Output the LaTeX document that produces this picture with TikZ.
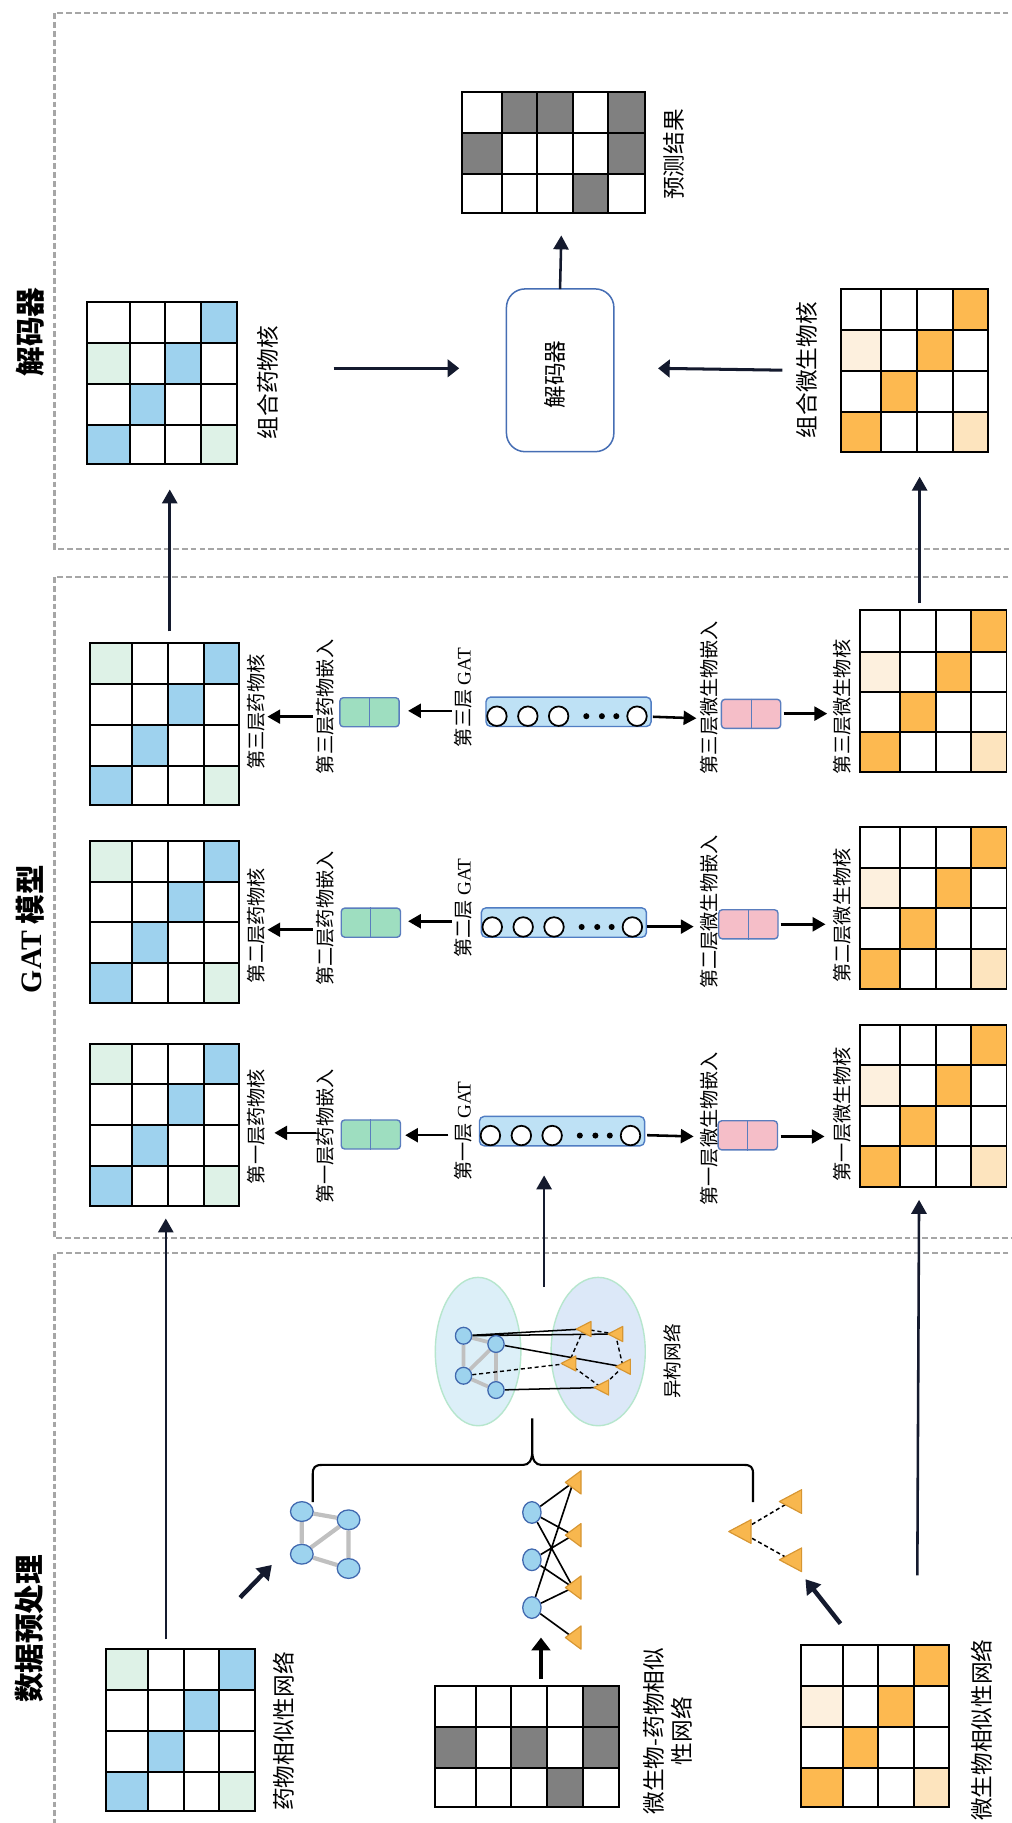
\documentclass[tikz,border=0pt]{standalone}
\usepackage{fontspec}
\setmainfont{Liberation Serif}
\newfontfamily\cjk{Noto Sans CJK SC}
\usetikzlibrary{arrows.meta,shapes.geometric,fit,calc}
\pgfdeclarelayer{bg}
\pgfdeclarelayer{edges}
\pgfsetlayers{bg,edges,main}

\definecolor{sky}{RGB}{158,210,238}
\definecolor{pgreen}{RGB}{222,242,231}
\definecolor{orn}{RGB}{253,185,80}
\definecolor{cream}{RGB}{253,240,222}
\definecolor{peach}{RGB}{253,228,190}
\definecolor{mgray}{RGB}{128,128,128}
\definecolor{mint}{RGB}{158,222,192}
\definecolor{rose}{RGB}{245,190,200}
\definecolor{embline}{RGB}{90,125,190}
\definecolor{barfill}{RGB}{190,225,245}
\definecolor{barline}{RGB}{80,125,195}
\definecolor{decline}{RGB}{70,110,180}
\definecolor{ellA}{RGB}{220,239,248}
\definecolor{ellB}{RGB}{220,232,248}
\definecolor{ellline}{RGB}{182,230,205}
\definecolor{nodefill}{RGB}{157,211,238}
\definecolor{nodeline}{RGB}{65,105,175}
\definecolor{trifill}{RGB}{248,183,78}
\definecolor{triline}{RGB}{215,150,50}
\definecolor{edgegray}{RGB}{192,192,192}
\definecolor{navy}{RGB}{20,26,46}
\definecolor{panelgray}{RGB}{166,166,166}

\tikzset{
  gridline/.style={line width=1.7pt, line cap=rect, draw=black},
  panel/.style={draw=panelgray, line width=2pt, dash pattern=on 5pt off 2.6pt},
  lbl/.style={rotate=90, inner sep=0pt, font=\cjk\fontsize{19.5}{24.3}\selectfont},
  slbl/.style={rotate=90, inner sep=0pt, font=\cjk\fontsize{16.5}{20}\selectfont},
  ttl/.style={rotate=90, inner sep=0pt, font=\cjk\bfseries\fontsize{25.5}{30}\selectfont},
  navyarr/.style={draw=navy, line width=2.2pt, -{Triangle[length=12pt,width=13pt]}},
  decarr/.style={draw=navy, line width=2.6pt, -{Triangle[length=10pt,width=15pt]}},
  blkarr/.style={draw=black, line width=2.2pt, -{Triangle[length=11pt,width=12pt]}},
  fatarr/.style={draw=navy, line width=3.8pt, -{Triangle[length=12pt,width=15pt]}},
  uparr/.style={draw=black, line width=3pt, -{Triangle[length=11pt,width=16pt]}},
  embbox/.style={draw=embline, line width=1.2pt, rounded corners=3pt, minimum width=51pt, minimum height=25pt, inner sep=0pt},
  barbox/.style={draw=barline, fill=barfill, line width=1.2pt, rounded corners=4pt, minimum width=142pt, minimum height=25.3pt, inner sep=0pt},
  unitcirc/.style={draw=black, fill=white, line width=1.5pt},
  blob/.style={ellipse, draw=nodeline, fill=nodefill, line width=1.1pt, inner sep=0pt},
  trishape/.style={draw=triline, fill=trifill, line width=1pt, line join=round},
  grayedge/.style={draw=edgegray, line width=3.2pt},
  solidedge/.style={draw=black, line width=1.3pt},
  dashedge/.style={draw=black, line width=1.2pt, dash pattern=on 3.5pt off 2.5pt},
  halo/.style={ellipse, draw=ellline, line width=1.2pt, inner sep=0pt},
}

% matrix: #1 column edges, #2 row edges, #3 coloured cells row/col/colour, #4 name
\newcommand\kmat[4]{%
  \edef\kcells{#3}%
  \foreach \kr/\kc/\kcol in \kcells {%
    \pgfmathtruncatemacro\kcn{\kc+1}%
    \pgfmathtruncatemacro\krn{\kr+1}%
    \pgfmathsetmacro\kxa{{#1}[\kc]}%
    \pgfmathsetmacro\kxb{{#1}[\kcn]}%
    \pgfmathsetmacro\kya{{#2}[\kr]}%
    \pgfmathsetmacro\kyb{{#2}[\krn]}%
    \fill[\kcol] (\kxa,\kya) rectangle (\kxb,\kyb);
  }%
  \pgfmathsetmacro\kxl{{#1}[0]}%
  \pgfmathsetmacro\kyt{{#2}[0]}%
  \foreach \kv in {#1} {\xdef\kxR{\kv}}%
  \foreach \kv in {#2} {\xdef\kyB{\kv}}%
  \foreach \kv in {#1} {\draw[gridline] (\kv,\kyt) -- (\kv,\kyB);}%
  \foreach \kv in {#2} {\draw[gridline] (\kxl,\kv) -- (\kxR,\kv);}%
  \node[inner sep=0pt, fit={(\kxl,\kyt) (\kxR,\kyB)}] (#4) {};%
}

% GAT layer bar: #1 left x, #2 centre y, #3 name
\newcommand\gatbar[3]{%
  \node[barbox, anchor=west] (#3) at (#1,#2) {};
  \foreach \kdx in {10,36.6,63.1,130.5} \draw[unitcirc] ({#1+\kdx},{#2+3.8}) circle[radius=8.4pt];
  \foreach \kdx in {86.9,100.3,112.7} \fill[black] ({#1+\kdx},{#2+3.8}) circle[radius=2.6pt];
}

% left-pointing triangle at a named coordinate: #1 name, #2 width, #3 height
\newcommand\tri[3]{%
  \filldraw[trishape] ($(#1)+(-#2/2,0)$) -- ($(#1)+(#2/2,-#3/2)$) -- ($(#1)+(#2/2,#3/2)$) -- cycle;
}

\newcommand\dcells{0/0/pgreen,0/3/sky,1/2/sky,2/1/sky,3/0/sky,3/3/pgreen}
\newcommand\ocells{0/3/orn,1/0/cream,1/2/orn,2/1/orn,3/0/orn,3/3/peach}

\begin{document}
\begin{tikzpicture}[x=1pt,y=-1pt]
\useasboundingbox (0,0) rectangle (869.6,1568);
\begin{pgfonlayer}{bg}
\fill[white] (0,0) rectangle (869.6,1568);
\end{pgfonlayer}

% ---------- panels ----------
\draw[panel] (875,11) -- (47,11) -- (47,472) -- (875,472);
\draw[panel] (875,496) -- (47,496) -- (47,1065) -- (875,1065);
\draw[panel] (875,1078) -- (47,1078) -- (47,1580);

\node[ttl] (tdec) at (26,285.5) {解码器};
\node[ttl] (tgat) at (26,799) {{\rmfamily GAT} 模型};
\node[ttl] (tdata) at (25,1401) {数据预处理};

% ---------- decoder ----------
\kmat{397,432,462,493,523,555}{79,114.6,150,183.4}{0/1/mgray,0/2/mgray,0/4/mgray,1/0/mgray,1/4/mgray,2/3/mgray}{res}
\node[lbl] (lres) at (580,133) {预测结果};
\node[draw=decline, fill=white, line width=1.3pt, rounded corners=16pt, minimum width=92.4pt, minimum height=140pt, inner sep=0pt] (dec) at (481.8,318.5) {};
\node[lbl] (ldec) at (477,322) {解码器};
\kmat{75,112,142,173,203.7}{260,295,330,365.5,399.4}{0/3/sky,1/0/pgreen,1/2/sky,2/1/sky,3/0/sky,3/3/pgreen}{dkc}
\node[lbl] (ldkc) at (230,329) {组合药物核};
\kmat{723,758,788.5,819.6,850}{248.6,283.8,318.7,354,388.5}{\ocells}{mkc}
\node[lbl] (lmkc) at (694,318.5) {组合微生物核};

\coordinate (da1) at (287,316.8); \coordinate (da2) at (395,316.8);
\coordinate (db1) at (673,318.4); \coordinate (db2) at (566,316.8);
\coordinate (dc1) at (481.7,248.6); \coordinate (dc2) at (482.8,202.5);
\draw[decarr] (da1) -- (da2);
\draw[decarr] (db1) -- (db2);
\draw[navyarr] (dc1) -- (dc2);

% ---------- GAT layers ----------
\kmat{77.7,113.8,144.3,175.4,205.9}{553,588.4,623.7,658.7,692.4}{\dcells}{dk3}
\kmat{77.7,113.8,144.3,175.4,205.9}{723.2,758.3,793.4,828.4,863}{\dcells}{dk2}
\kmat{77.7,113.8,144.3,175.4,205.9}{897.6,932.6,967.6,1002.6,1037}{\dcells}{dk1}
\kmat{739.7,774,804.7,835,865.7}{525,560.7,595.3,629.9,663.7}{\ocells}{mk3}
\kmat{739.7,774,804.7,835,865.7}{711.7,746.5,781.2,816,850.7}{\ocells}{mk2}
\kmat{739.7,774,804.7,835,865.7}{881.5,916.3,951,985.8,1020.6}{\ocells}{mk1}

\node[embbox, fill=mint] (g3) at (317.8,612.6) {};
\node[embbox, fill=mint] (g2) at (319,793.6) {};
\node[embbox, fill=mint] (g1) at (319,975.8) {};
\node[embbox, fill=rose] (p3) at (646,614) {};
\node[embbox, fill=rose] (p2) at (643.7,795) {};
\node[embbox, fill=rose] (p1) at (643.2,976.5) {};
\foreach \e in {g3,g2,g1,p3,p2,p1} \draw[embline, line width=0.8pt] (\e.north) -- (\e.south);

\gatbar{417.4}{612.2}{bar3}
\gatbar{413.4}{793.5}{bar2}
\gatbar{411.8}{972.9}{bar1}

\node[slbl] (ldk3) at (220,612.5) {第三层药物核};
\node[slbl] (lg3) at (280,608) {第三层药物嵌入};
\node[slbl] (lb3) at (398.5,600) {第三层 {\rmfamily GAT}};
\node[slbl] (lp3) at (610,600) {第三层微生物嵌入};
\node[slbl] (lmk3) at (724,608) {第三层微生物核};

\node[slbl] (ldk2) at (220,796) {第二层药物核};
\node[slbl] (lg2) at (280,790) {第二层药物嵌入};
\node[slbl] (lb2) at (398.5,781) {第二层 {\rmfamily GAT}};
\node[slbl] (lp2) at (610,784.5) {第二层微生物嵌入};
\node[slbl] (lmk2) at (724,787.4) {第二层微生物核};

\node[slbl] (ldk1) at (220,969) {第一层药物核};
\node[slbl] (lg1) at (280,977.5) {第一层药物嵌入};
\node[slbl] (lb1) at (398.5,972.7) {第一层 {\rmfamily GAT}};
\node[slbl] (lp1) at (610,970.8) {第一层微生物嵌入};
\node[slbl] (lmk1) at (724,958.3) {第一层微生物核};

\foreach \na/\xa/\ya/\xb/\yb in {
  q3a/269/616.4/230/616.4, q3b/388.5/611.4/351/611.4, q3c/561.6/616.5/599/617.8, q3d/674/613.8/711.5/613.8,
  q2a/269/799.7/230/799.7, q2b/388.5/792.4/351/792.4, q2c/556.6/797/596.6/797, q2d/671.5/795/710/795,
  q1a/272/974.4/236/974.4, q1b/385.7/976.4/348.5/976.4, q1c/556.6/976.4/596.6/977.5, q1d/671.5/977.5/709.2/977.5} {
  \coordinate (\na s) at (\xa,\ya);
  \coordinate (\na e) at (\xb,\yb);
  \draw[blkarr] (\na s) -- (\na e);
}

% ---------- long connectors between stages ----------
\coordinate (la1) at (146,543); \coordinate (la2) at (146,421);
\coordinate (lb1) at (791,519); \coordinate (lb2) at (791,410);
\coordinate (lc1) at (142.6,1410); \coordinate (lc2) at (142.6,1048);
\coordinate (ld1) at (468,1107); \coordinate (ld2) at (468,1011);
\coordinate (le1) at (789,1355); \coordinate (le2) at (790.5,1032);
\draw[navyarr] (la1) -- (la2);
\draw[navyarr] (lb1) -- (lb2);
\draw[navyarr] (lc1) -- (lc2);
\draw[navyarr] (ld1) -- (ld2);
\draw[navyarr] (le1) -- (le2);

% ---------- data preprocessing ----------
% heterogeneous network
\begin{pgfonlayer}{bg}
\node[halo, fill=ellA, minimum width=73.6pt, minimum height=127.6pt] (hd) at (411.2,1162.5) {};
\node[halo, fill=ellB, minimum width=81pt, minimum height=127.6pt] (hm) at (514.5,1162.5) {};
\end{pgfonlayer}
\node[blob, minimum width=14pt, minimum height=14.5pt] (n1) at (398.7,1148.9) {};
\node[blob, minimum width=14pt, minimum height=14.5pt] (n2) at (426.6,1156) {};
\node[blob, minimum width=14pt, minimum height=14.5pt] (n3) at (398.7,1183.3) {};
\node[blob, minimum width=14pt, minimum height=14.5pt] (n4) at (426.6,1195.6) {};
\coordinate (t1) at (502,1143.1);
\coordinate (t2) at (529.3,1147.4);
\coordinate (t3) at (489,1172.7);
\coordinate (t4) at (535.9,1175.6);
\coordinate (t5) at (517.2,1193.4);
\begin{pgfonlayer}{edges}
\draw[grayedge] (n1) -- (n2) (n1) -- (n3) (n3) -- (n2) (n2) -- (n4) (n3) -- (n4);
\draw[solidedge] (n1) -- (t1) (n1) -- (t2) (n2) -- (t4) (n4) -- (t5);
\draw[dashedge] (n3) -- (t3) (t1) -- (t2) (t1) -- (t3) (t2) -- (t4) (t3) -- (t5) (t4) -- (t5);
\end{pgfonlayer}
\foreach \t in {t1,t2,t3,t4,t5} \tri{\t}{12.6}{13};
\node[rotate=90, inner sep=0pt, font=\cjk\fontsize{16}{19}\selectfont] (lhet) at (578,1171) {异构网络};

% brace gathering the three sub-networks
\draw[line width=1.8pt] (269,1292) -- (269,1268) .. controls (269,1262) and (271,1260) .. (277,1260)
  -- (450,1260) .. controls (455,1260) and (457.8,1256) .. (457.8,1248) -- (457.8,1220)
  -- (457.8,1248) .. controls (457.8,1256) and (460.6,1260) .. (465.6,1260)
  -- (640,1260) .. controls (646,1260) and (647.7,1262) .. (647.7,1268) -- (647.7,1292);

% drug similarity graph
\node[blob, minimum width=19.5pt, minimum height=17pt] (c1) at (259.6,1300.1) {};
\node[blob, minimum width=19.5pt, minimum height=17pt] (c2) at (299.8,1307.2) {};
\node[blob, minimum width=19.5pt, minimum height=17pt] (c3) at (259.6,1336.8) {};
\node[blob, minimum width=19.5pt, minimum height=17pt] (c4) at (299.8,1349.1) {};
\begin{pgfonlayer}{edges}
\draw[grayedge, line width=3.6pt] (c1) -- (c2) (c1) -- (c3) (c3) -- (c2) (c2) -- (c4) (c3) -- (c4);
\end{pgfonlayer}

% microbe-drug bipartite graph
\node[blob, minimum width=15.8pt, minimum height=18.6pt] (b1) at (457.5,1300.9) {};
\node[blob, minimum width=15.8pt, minimum height=18.6pt] (b2) at (457.5,1341.6) {};
\node[blob, minimum width=15.8pt, minimum height=18.6pt] (b3) at (457.5,1382.7) {};
\coordinate (u1) at (493,1275);
\coordinate (u2) at (493,1320.4);
\coordinate (u3) at (493,1365.5);
\coordinate (u4) at (493,1408.5);
\begin{pgfonlayer}{edges}
\draw[solidedge, line width=1.4pt] (b1) -- (u1) (b1) -- (u2) (b1) -- (u3) (b2) -- (u2) (b2) -- (u3)
  (b3) -- (u1) (b3) -- (u3) (b3) -- (u4);
\end{pgfonlayer}
\foreach \t in {u1,u2,u3,u4} \tri{\t}{13.5}{20};

% microbe similarity graph
\coordinate (m1) at (636.4,1317.3);
\coordinate (m2) at (679.9,1291.5);
\coordinate (m3) at (679.9,1341.6);
\begin{pgfonlayer}{edges}
\draw[dashedge, line width=1.3pt] (m1) -- (m2) (m1) -- (m3);
\end{pgfonlayer}
\foreach \t in {m1,m2,m3} \tri{\t}{19.2}{20.4};

% input matrices
\kmat{91.2,127.6,158.3,188.7,219.4}{1418.5,1453.8,1488.8,1523.8,1557.7}{\dcells}{dsim}
\node[lbl] (ldsim) at (243.8,1489.4) {药物相似性网络};
\kmat{374.4,409.4,439.8,470.4,501.4,532.1}{1450,1485.1,1520.4,1553.9}{0/4/mgray,1/0/mgray,1/2/mgray,1/4/mgray,2/3/mgray}{mdsim}
\node[lbl, align=center] (lmdsim) at (574.5,1489) {微生物-药物相似\\性网络};
\kmat{689,724.9,755.3,786,816.1}{1414.8,1450,1485.1,1520.4,1553.9}{\ocells}{msim}
\node[lbl] (lmsim) at (844.8,1488) {微生物相似性网络};

\coordinate (ia1) at (206.5,1374.1); \coordinate (ia2) at (233.8,1346);
\coordinate (ib1) at (465.3,1444.3); \coordinate (ib2) at (465.3,1408.5);
\coordinate (ic1) at (722.9,1396.5); \coordinate (ic2) at (692.8,1358.3);
\draw[fatarr] (ia1) -- (ia2);
\draw[uparr] (ib1) -- (ib2);
\draw[fatarr] (ic1) -- (ic2);
\end{tikzpicture}
\end{document}
